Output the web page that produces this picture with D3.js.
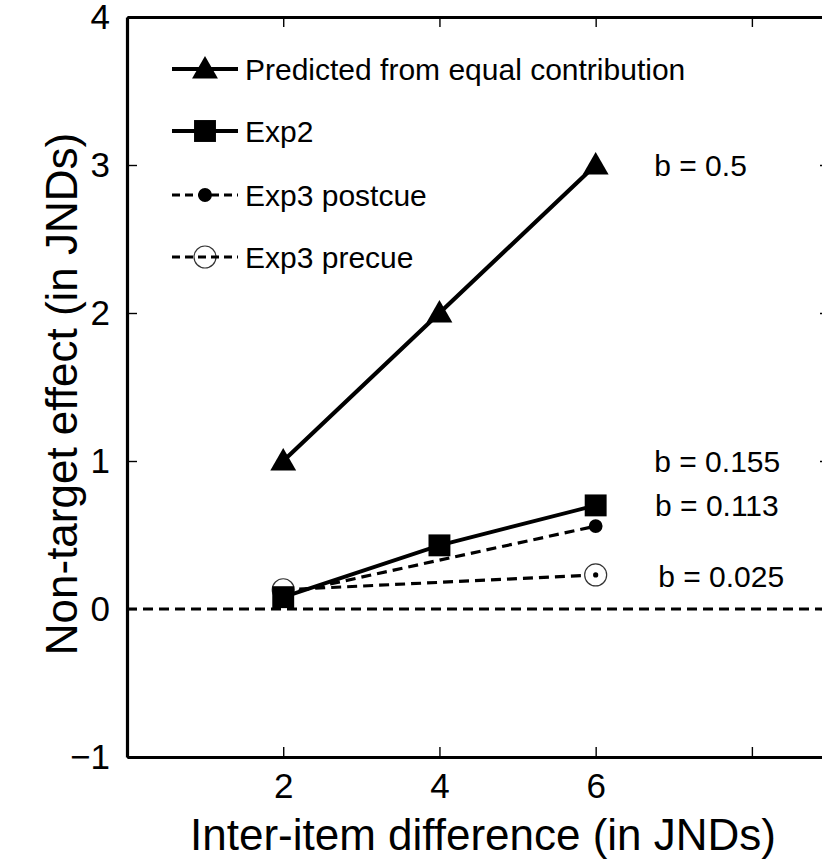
<!DOCTYPE html>
<html>
<head>
<meta charset="utf-8">
<script src="https://cdn.jsdelivr.net/npm/d3@7"></script>
<style>
  html, body { margin: 0; padding: 0; background: #fff; }
  svg { display: block; font-family: "Liberation Sans", Arial, Helvetica, sans-serif; }
</style>
</head>
<body>
<svg id="chart" width="822" height="865"></svg>
<script>
// ---- data ----
const xValues = [2, 4, 6];
const predicted = [1.0, 2.0, 3.0];
const exp2 = [0.08, 0.43, 0.70];
const exp3X = [2, 6];
const exp3Postcue = [0.10, 0.56];
const exp3Precue = [0.13, 0.23];

const seriesNames = ["Predicted from equal contribution", "Exp2", "Exp3 postcue", "Exp3 precue"];
const xTicks = [2, 4, 6, 8];
const xTickLabels = ["2", "4", "6", ""];
const yTicks = [-1, 0, 1, 2, 3, 4];
const yTickLabels = ["\u22121", "0", "1", "2", "3", "4"];
const slopeLabels = ["b = 0.5", "b = 0.155", "b = 0.113", "b = 0.025"];
const slopeLabelX = [6.75, 6.75, 6.76, 6.8];
const slopeLabelY = [3.0, 1.0, 0.70, 0.22];
const xTitle = "Inter-item difference (in JNDs)";
const yTitle = "Non-target effect (in JNDs)";

// ---- layout ----
const svg = d3.select("#chart");
const pLeft = 127, pRight = 830, pTop = 17, pBottom = 757;
const x = d3.scaleLinear().domain([0, 9]).range([pLeft, pRight]);
const y = d3.scaleLinear().domain([-1, 4]).range([pBottom, pTop]);

function styleAxis(g) {
  g.attr("font-size", null).attr("font-family", null);
  g.select(".domain").attr("stroke", "#000").attr("stroke-width", 3.2);
  g.selectAll(".tick line").attr("stroke", "#000").attr("stroke-width", 1.4);
  g.selectAll(".tick text").attr("fill", "#000")
    .style("font-size", "35px")
    .style("font-family", "'Liberation Sans', Arial, Helvetica, sans-serif");
}

// zero line
svg.append("line")
  .attr("x1", x(0)).attr("x2", x(9))
  .attr("y1", y(0)).attr("y2", y(0))
  .attr("stroke", "#000").attr("stroke-width", 3)
  .attr("stroke-dasharray", "10,6");

// axes (ticks inward)
svg.append("g").attr("transform", `translate(0,${pBottom})`)
  .call(d3.axisBottom(x).tickValues(xTicks).tickSizeInner(-10).tickSizeOuter(0).tickPadding(16)
    .tickFormat((d, i) => xTickLabels[i]))
  .call(styleAxis);
svg.append("g").attr("transform", `translate(0,${pTop})`)
  .call(d3.axisTop(x).tickValues(xTicks).tickSizeInner(-10).tickSizeOuter(0).tickFormat(""))
  .call(styleAxis);
svg.append("g").attr("transform", `translate(${pLeft},0)`)
  .call(d3.axisLeft(y).tickValues(yTicks).tickSizeInner(-10).tickSizeOuter(0).tickPadding(17)
    .tickFormat((d, i) => yTickLabels[i]))
  .call(styleAxis);
svg.append("g").attr("transform", `translate(${pRight},0)`)
  .call(d3.axisRight(y).tickValues(yTicks).tickSizeInner(-10).tickSizeOuter(0).tickFormat(""))
  .call(styleAxis);

// axis titles
svg.append("text")
  .attr("x", 483).attr("y", 850)
  .attr("text-anchor", "middle").attr("font-size", 44).attr("fill", "#000")
  .text(xTitle);
svg.append("text")
  .attr("transform", `translate(77,${394}) rotate(-90)`)
  .attr("text-anchor", "middle").attr("font-size", 44).attr("fill", "#000")
  .text(yTitle);

// ---- series ----
const lineGen = d3.line().x(d => x(d[0])).y(d => y(d[1]));
const zip = (xs, vals) => xs.map((v, i) => [v, vals[i]]);

const triangle = d3.symbol().type(d3.symbolTriangle).size(290);
const square = d3.symbol().type(d3.symbolSquare).size(480);
const dot = d3.symbol().type(d3.symbolCircle).size(150);

// predicted
svg.append("path").datum(zip(xValues, predicted)).attr("d", lineGen)
  .attr("fill", "none").attr("stroke", "#000").attr("stroke-width", 4.2);
svg.selectAll(".tri").data(zip(xValues, predicted)).join("path")
  .attr("transform", d => `translate(${x(d[0])},${y(d[1]) + 2})`)
  .attr("d", triangle).attr("fill", "#000");

// precue
svg.append("path").datum(zip(exp3X, exp3Precue)).attr("d", lineGen)
  .attr("fill", "none").attr("stroke", "#000").attr("stroke-width", 3.2)
  .attr("stroke-dasharray", "10,6");
const pre = svg.selectAll(".pre").data(zip(exp3X, exp3Precue)).join("g")
  .attr("transform", d => `translate(${x(d[0])},${y(d[1])})`);
pre.append("circle").attr("r", 11).attr("fill", "#fff").attr("stroke", "#333").attr("stroke-width", 1.2);
pre.append("circle").attr("r", 2.6).attr("fill", "#000");

// postcue
svg.append("path").datum(zip(exp3X, exp3Postcue)).attr("d", lineGen)
  .attr("fill", "none").attr("stroke", "#000").attr("stroke-width", 3.2)
  .attr("stroke-dasharray", "10,6");
svg.selectAll(".post").data(zip(exp3X, exp3Postcue)).join("path")
  .attr("transform", d => `translate(${x(d[0])},${y(d[1])})`)
  .attr("d", dot).attr("fill", "#000");

// exp2
svg.append("path").datum(zip(xValues, exp2)).attr("d", lineGen)
  .attr("fill", "none").attr("stroke", "#000").attr("stroke-width", 3.8);
svg.selectAll(".sq").data(zip(xValues, exp2)).join("path")
  .attr("transform", d => `translate(${x(d[0])},${y(d[1])})`)
  .attr("d", square).attr("fill", "#000");

// slope labels
svg.selectAll(".blab").data(slopeLabels).join("text")
  .attr("x", (d, i) => x(slopeLabelX[i]))
  .attr("y", (d, i) => y(slopeLabelY[i]))
  .attr("dy", "0.35em")
  .attr("font-size", 30).attr("fill", "#000")
  .text(d => d);

// ---- legend ----
const legY = [69, 131, 195, 257];
const legX1 = 172, legX2 = 238, legM = 205;
const leg = svg.append("g");
seriesNames.forEach((name, i) => {
  const dashed = i >= 2;
  if (i === 3) {
    leg.append("circle").attr("cx", legM).attr("cy", legY[i]).attr("r", 11)
      .attr("fill", "none").attr("stroke", "#333").attr("stroke-width", 1.2);
  }
  leg.append("line").attr("x1", legX1).attr("x2", legX2).attr("y1", legY[i]).attr("y2", legY[i])
    .attr("stroke", "#000").attr("stroke-width", dashed ? 3.2 : 3.8)
    .attr("stroke-dasharray", dashed ? "8,5" : null);
  if (i === 0) leg.append("path").attr("transform", `translate(${legM},${legY[i] + 2})`).attr("d", triangle).attr("fill", "#000");
  if (i === 1) leg.append("path").attr("transform", `translate(${legM},${legY[i]})`).attr("d", square).attr("fill", "#000");
  if (i === 2) leg.append("path").attr("transform", `translate(${legM},${legY[i]})`).attr("d", dot).attr("fill", "#000");
  leg.append("text").attr("x", 245).attr("y", legY[i]).attr("dy", "0.35em")
    .attr("font-size", 30).attr("fill", "#000").text(name);
});
</script>
</body>
</html>
